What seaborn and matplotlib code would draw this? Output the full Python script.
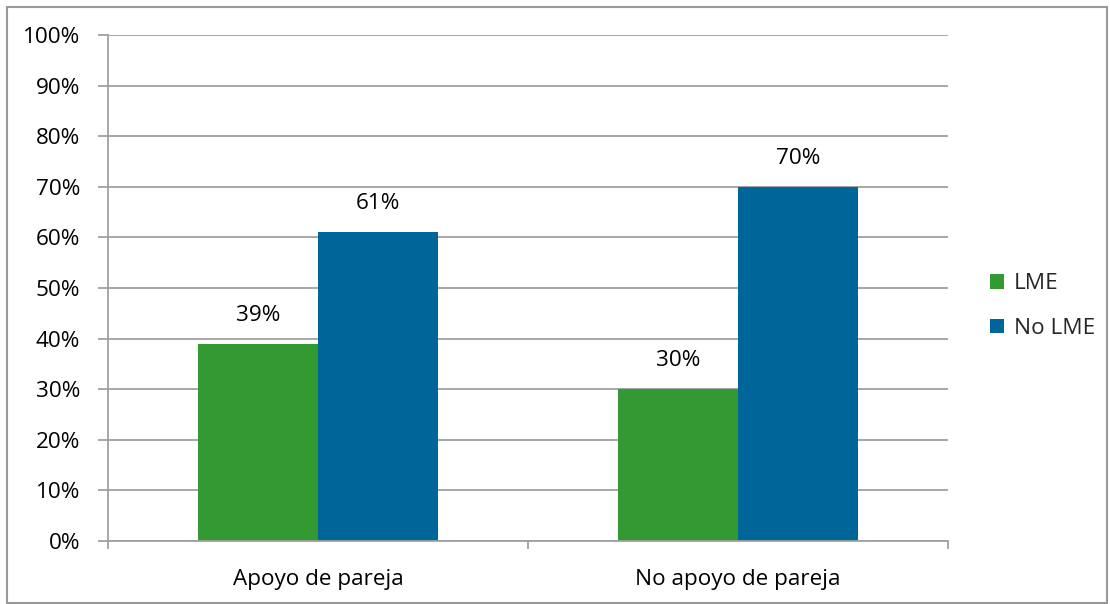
import matplotlib
matplotlib.use("Agg")
import matplotlib.pyplot as plt
import seaborn as sns
import pandas as pd
from matplotlib.patches import Rectangle

categories = ["Apoyo de pareja", "No apoyo de pareja"]
series_names = ["LME", "No LME"]
lme_values = [39, 30]
no_lme_values = [61, 70]
y_ticks = [0, 10, 20, 30, 40, 50, 60, 70, 80, 90, 100]
colors = ["#339933", "#006699"]

df = pd.DataFrame({
    "cat": categories * 2,
    "serie": [series_names[0]] * 2 + [series_names[1]] * 2,
    "val": lme_values + no_lme_values,
})

sns.set_style("white")
plt.rcParams["font.family"] = ["Open Sans", "DejaVu Sans"]
FS = 16.2

fig = plt.figure(figsize=(11.1, 6.04), dpi=100)
ax = fig.add_axes([0.0973, 0.1043, 0.7567, 0.8377])

sns.barplot(data=df, x="cat", y="val", hue="serie", palette=colors,
            width=0.571, ax=ax, saturation=1, edgecolor="none", linewidth=0)

for c in ax.containers:
    ax.bar_label(c, labels=[f"{v:.0f}%" for v in c.datavalues], padding=13,
                 fontsize=FS, color="#000000")

ax.set_ylim(0, 100)
ax.set_xlim(-0.5, 1.5)
ax.set_yticks(y_ticks)
ax.set_yticklabels([f"{t}%" for t in y_ticks], fontsize=FS, color="#000000")
ax.yaxis.grid(True, color="#a0a0a0", linewidth=1.3)
ax.set_axisbelow(True)
ax.set_xlabel("")
ax.set_ylabel("")

# x ticks at category boundaries, labels at centers
ax.set_xticks([-0.5, 0.5, 1.5])
ax.set_xticklabels([])
ax.set_xticks([0, 1], minor=True)
ax.set_xticklabels(categories, minor=True, fontsize=FS, color="#000000")
ax.tick_params(axis="x", which="major", length=6, width=1.3, color="#a0a0a0", direction="out", bottom=True)
ax.tick_params(axis="x", which="minor", length=0, pad=20)
ax.tick_params(axis="y", length=7, width=1.3, color="#a0a0a0", direction="out", left=True, pad=13)

for s in ["top", "right"]:
    ax.spines[s].set_visible(False)
for s in ["left", "bottom"]:
    ax.spines[s].set_color("#a0a0a0")
    ax.spines[s].set_linewidth(1.3)

leg = ax.legend(loc="center left", bbox_to_anchor=(1.026, 0.464), frameon=False,
                fontsize=FS, handlelength=0.62, handleheight=0.62, handletextpad=0.45,
                labelspacing=1.05)

fig.patches.append(Rectangle((0.006, 0.002), 0.991, 0.987, transform=fig.transFigure,
                             fill=False, edgecolor="#999999", linewidth=1.5))

fig.savefig("out.png", dpi=100, facecolor="white")
